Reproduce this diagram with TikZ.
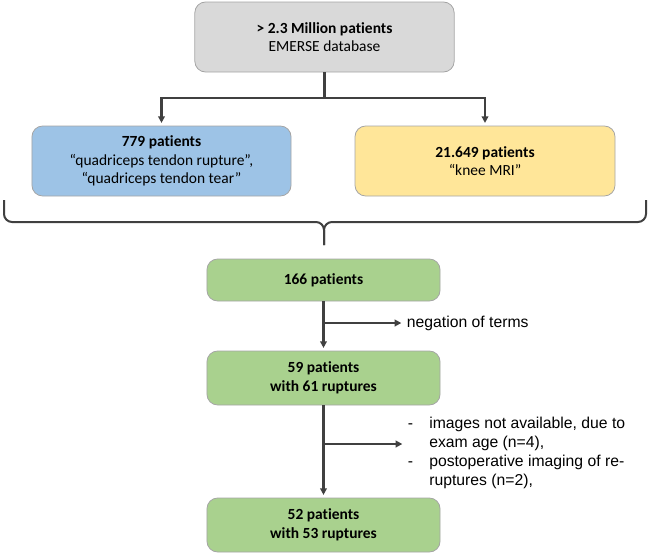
\documentclass[tikz,border=0pt]{standalone}
\usepackage{fontspec}
\setmainfont{Carlito}[Ligatures=NoCommon]
\newfontfamily\arialfont{Liberation Sans}
\usetikzlibrary{arrows.meta}
\definecolor{grafitt}{HTML}{404040}
\definecolor{kant}{HTML}{A5A5A5}
\definecolor{graboks}{HTML}{D9D9D9}
\definecolor{blaboks}{HTML}{9DC3E6}
\definecolor{gulboks}{HTML}{FFE699}
\definecolor{gronnboks}{HTML}{A9D18E}
\tikzset{
    %Define style for boxes
    boks/.style={
           rectangle,
           rounded corners=8pt,
           draw=kant, line width=0.6pt,
           align=center,
           inner sep=0pt,
           font=\fontsize{11.6}{14}\selectfont},
    % Define line style
    strek/.style={
           draw=grafitt,
           line width=1.7pt},
    % Define arrow style
    pilstrek/.style={
           strek,
           -{Triangle[length=5pt,width=5pt]},
           shorten >=2pt},
    % Text beside the arrows
    merknad/.style={
           inner sep=2pt,
           align=left,
           font=\arialfont\fontsize{11.8}{14.25}\selectfont}
}
\newcommand*{\listestrek}{\makebox[16pt][l]{-}}

\begin{document}
\begin{tikzpicture}[x=0.75pt,y=-0.75pt]
\useasboundingbox (0,0) rectangle (649,553);

% Sources: the database and the two searches
\node[boks, fill=graboks, minimum width=194.5pt, minimum height=52.5pt] (dbS) at (324.5,37)
     {\textbf{> 2.3 Million patients}\\EMERSE database};
\node[boks, fill=blaboks, minimum width=194.3pt, minimum height=52.5pt] (qtR) at (161.5,161)
     {\textbf{779 patients}\\“quadriceps tendon rupture”,\\“quadriceps tendon tear”};
\node[boks, fill=gulboks, minimum width=195pt, minimum height=52.5pt] (kMRI) at (485,161)
     {\textbf{21.649 patients}\\“knee MRI”};

% Split below the database
\coordinate (split) at (dbS.south |- 0,98);
\draw[strek] (dbS.south) -- (split);
\draw[pilstrek] (split) -| (qtR.north);
\draw[pilstrek] (split) -| (kMRI.north);

% The brace that joins both searches
\coordinate (bL) at (4,200);
\coordinate (bR) at (646,200);
\coordinate (bTip) at (324,245);
\draw[strek, line width=1.5pt, rounded corners=6pt] (bL) |- (bTip |- 0,222) -- (bTip);
\draw[strek, line width=1.5pt, rounded corners=6pt] (bR) |- (bTip |- 0,222) -- (bTip);

% Selection steps
\node[boks, fill=gronnboks, minimum width=174.8pt, minimum height=31.5pt] (p166) at (323.5,280)
     {\textbf{166 patients}};
\node[boks, fill=gronnboks, minimum width=174.8pt, minimum height=40.5pt] (p59) at (323.5,378)
     {\textbf{59 patients}\\\textbf{with 61 ruptures}};
\node[boks, fill=gronnboks, minimum width=174.8pt, minimum height=40.5pt] (p52) at (323.5,525)
     {\textbf{52 patients}\\\textbf{with 53 ruptures}};

% Exclusions
\node[merknad, anchor=west] (negT) at (404,323) {negation of terms};
\node[merknad, anchor=north west] (exT) at (405,414)
     {\listestrek images not available, due to\\
      \hspace*{16pt}exam age (n=4),\\
      \listestrek postoperative imaging of re-\\
      \hspace*{16pt}ruptures (n=2),};

% Now connect the steps
\draw[pilstrek] (p166) -- (p59);
\draw[pilstrek] (p59) -- (p52);
\coordinate (g1) at (p166.south |- 0,323);
\coordinate (g2) at (p59.south |- 0,444);
\draw[pilstrek] (g1) -- (negT.west);
\draw[pilstrek] (g2) -- (g2 -| exT.west);
\end{tikzpicture}
\end{document}
